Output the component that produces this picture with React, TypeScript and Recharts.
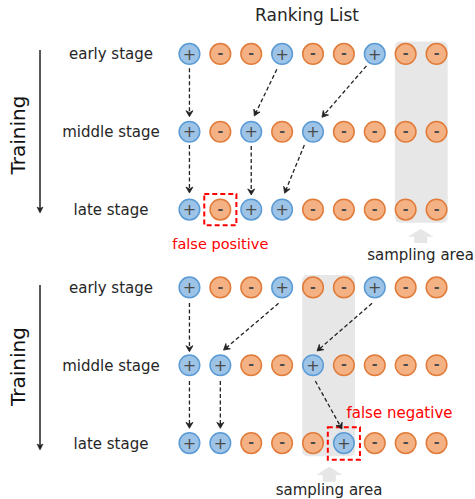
import React from 'react';
import {
  ScatterChart, Scatter, XAxis, YAxis, ReferenceArea, ReferenceLine, ReferenceDot,
} from 'recharts';

// positions in the ranking list (x) and stage rows (y): 0-2 upper diagram, 3-5 lower diagram
const ranks = [1, 2, 3, 4, 5, 6, 7, 8, 9];
const stageNames = ['early stage', 'middle stage', 'late stage'];
const stageRows = [0, 1, 2, 3, 4, 5];

const upperEarly = ['+', '-', '-', '+', '-', '-', '+', '-', '-'];
const upperMiddle = ['+', '-', '+', '-', '+', '-', '-', '-', '-'];
const upperLate = ['+', '-', '+', '+', '-', '-', '-', '-', '-'];
const lowerEarly = ['+', '-', '-', '+', '-', '-', '+', '-', '-'];
const lowerMiddle = ['+', '+', '-', '-', '+', '-', '-', '-', '-'];
const lowerLate = ['+', '+', '-', '-', '-', '+', '-', '-', '-'];

// dashed moves between stages: [fromRank, fromRow, toRank, toRow]
const upperMoves = [
  [1, 0.185, 1, 0.806],
  [3.83, 0.197, 3.1, 0.797],
  [6.73, 0.154, 5.29, 0.814],
  [1, 1.17, 1, 1.787],
  [3, 1.183, 3, 1.812],
  [4.72, 1.17, 4.08, 1.79],
];
const lowerMoves = [
  [1, 3.2, 1, 3.826],
  [3.886, 3.204, 2.104, 3.805],
  [6.911, 3.204, 5.13, 3.817],
  [1, 4.203, 1, 4.811],
  [2, 4.203, 2, 4.811],
  [5.075, 4.203, 5.939, 4.82],
];

// sampled ranks per diagram: [firstRank, lastRank, firstRow, lastRow]
const samplingRanks = [
  [8, 9, 0, 2],
  [5, 6, 3, 5],
];
// mistakes: [rank, row]
const falsePositive = [2, 2];
const falseNegative = [6, 5];

const rowsOfSigns = [upperEarly, upperMiddle, upperLate, lowerEarly, lowerMiddle, lowerLate];
const tokens = rowsOfSigns.flatMap((signs, row) =>
  signs.map((sign, i) => ({ rank: ranks[i], row: stageRows[row], sign })),
);

const FONT = '"DejaVu Sans", Verdana, sans-serif';

const Token = (p: any) => {
  const { cx, cy, payload } = p;
  const pos = payload.sign === '+';
  return (
    <g>
      <circle cx={cx} cy={cy} r={10.3} fill={pos ? '#9DC3E6' : '#F4B183'}
        stroke={pos ? '#5B9BD5' : '#E07B39'} strokeWidth={1.5} />
      <text x={cx} y={pos ? cy + 5.6 : cy + 4.2} textAnchor="middle" fontFamily={FONT}
        fontSize={pos ? 16 : 14} fontWeight={pos ? 'normal' : 'bold'} fill="#4a4a4a">
        {pos ? '+' : '-'}
      </text>
    </g>
  );
};

const DashedArrow = (p: any) => {
  const { x1, y1, x2, y2 } = p;
  const len = Math.hypot(x2 - x1, y2 - y1);
  const ux = (x2 - x1) / len;
  const uy = (y2 - y1) / len;
  const bx = x2 - ux * 6;
  const by = y2 - uy * 6;
  const nx = x2 - ux * 4;
  const ny = y2 - uy * 4;
  return (
    <g>
      <line x1={x1} y1={y1} x2={nx} y2={ny} stroke="#222" strokeWidth={1.3} strokeDasharray="4 2.5" />
      <polygon
        points={`${x2},${y2} ${bx - uy * 3.5},${by + ux * 3.5} ${nx},${ny} ${bx + uy * 3.5},${by - ux * 3.5}`}
        fill="#222" stroke="#222" strokeWidth={0.8} strokeLinejoin="round" />
    </g>
  );
};

const SolidArrow = (p: any) => {
  const { x1, y1, x2, y2 } = p;
  return (
    <g>
      <line x1={x1} y1={y1} x2={x2} y2={y2 - 4} stroke="#222" strokeWidth={1.5} />
      <polygon points={`${x2},${y2} ${x2 - 3},${y2 - 6} ${x2},${y2 - 4.5} ${x2 + 3},${y2 - 6}`}
        fill="#222" stroke="#222" strokeWidth={0.6} />
    </g>
  );
};

const BlockArrow = (p: any) => {
  const { x1, y1, x2, y2 } = p;
  const head = (y1 - y2) * 0.55;
  return (
    <polygon
      points={`${x2},${y2} ${x2 + 13},${y2 + head} ${x2 + 6.5},${y2 + head} ${x1 + 6.5},${y1} ${x1 - 6.5},${y1} ${x2 - 6.5},${y2 + head} ${x2 - 13},${y2 + head}`}
      fill="#E6E6E6" />
  );
};

const GrayBand = (p: any) => (
  <rect x={p.x} y={p.y} width={p.width} height={p.height} rx={5} fill="#E7E7E7" />
);

const RedBox = (p: any) => (
  <rect x={p.x} y={p.y} width={p.width} height={p.height} fill="none"
    stroke="#FF0000" strokeWidth={2} strokeDasharray="5 3" />
);

const caption = (text: string, size: number, color: string, rotate = false) => (p: any) => (
  <text x={p.cx} y={p.cy} textAnchor="middle" fontFamily={FONT} fontSize={size} fill={color}
    dominantBaseline={rotate ? 'central' : 'auto'}
    transform={rotate ? `rotate(-90 ${p.cx} ${p.cy})` : undefined}>
    {text}
  </text>
);

const StageTick = (p: any) => (
  <text x={111} y={p.y + 5.5} textAnchor="middle" fontFamily={FONT} fontSize={15} fill="#262626">
    {stageNames[p.payload.value % 3]}
  </text>
);

export default function App() {
  const moves = [...upperMoves, ...lowerMoves];
  return (
    <div style={{ position: 'absolute', left: 0, top: 0, width: 475, height: 499, background: '#fff' }}>
      <ScatterChart width={475} height={499} margin={{ top: 15, right: 23, bottom: 17, left: 0 }}
        style={{ fontFamily: FONT }}>
        <XAxis type="number" dataKey="rank" domain={[0.5, 9.5]} hide />
        <YAxis type="number" dataKey="row" domain={[-0.5, 5.5]} reversed width={174}
          ticks={stageRows} tick={<StageTick />} axisLine={false} tickLine={false} />

        {samplingRanks.map(([a, b, r0, r1], i) => (
          <ReferenceArea key={`band${i}`} x1={a - 0.35} x2={b + 0.36} y1={r0 - 0.16} y2={r1 + 0.17}
            shape={GrayBand} ifOverflow="visible" />
        ))}

        {moves.map(([xa, ya, xb, yb], i) => (
          <ReferenceLine key={`mv${i}`} segment={[{ x: xa, y: ya }, { x: xb, y: yb }]}
            shape={DashedArrow} ifOverflow="visible" />
        ))}

        <Scatter data={tokens} shape={Token} isAnimationActive={false} />

        <ReferenceArea x1={falsePositive[0] - 0.52} x2={falsePositive[0] + 0.52}
          y1={falsePositive[1] - 0.2} y2={falsePositive[1] + 0.2} shape={RedBox} ifOverflow="visible" />
        <ReferenceArea x1={falseNegative[0] - 0.52} x2={falseNegative[0] + 0.52}
          y1={falseNegative[1] - 0.205} y2={falseNegative[1] + 0.215} shape={RedBox} ifOverflow="visible" />

        {/* training direction arrows on the left */}
        <ReferenceLine segment={[{ x: -3.838, y: -0.05 }, { x: -3.838, y: 2.044 }]} shape={SolidArrow} ifOverflow="visible" />
        <ReferenceLine segment={[{ x: -3.838, y: 2.969 }, { x: -3.838, y: 5.089 }]} shape={SolidArrow} ifOverflow="visible" />
        <ReferenceDot x={-4.55} y={1.042} shape={caption('Training', 20, '#111', true)} ifOverflow="visible" />
        <ReferenceDot x={-4.55} y={4.016} shape={caption('Training', 20, '#111', true)} ifOverflow="visible" />

        <ReferenceDot x={4.806} y={-0.423} shape={caption('Ranking List', 17, '#262626')} ifOverflow="visible" />

        {/* sampling area pointers */}
        <ReferenceLine segment={[{ x: 8.487, y: 2.429 }, { x: 8.487, y: 2.249 }]} shape={BlockArrow} ifOverflow="visible" />
        <ReferenceDot x={8.48} y={2.648} shape={caption('sampling area', 15, '#262626')} ifOverflow="visible" />
        <ReferenceLine segment={[{ x: 5.528, y: 5.496 }, { x: 5.528, y: 5.303 }]} shape={BlockArrow} ifOverflow="visible" />
        <ReferenceDot x={5.518} y={5.667} shape={caption('sampling area', 15, '#262626')} ifOverflow="visible" />

        <ReferenceDot x={2} y={2.506} shape={caption('false positive', 14.5, '#FF0000')} ifOverflow="visible" />
        <ReferenceDot x={7.8} y={4.677} shape={caption('false negative', 15, '#FF0000')} ifOverflow="visible" />
      </ScatterChart>
    </div>
  );
}
